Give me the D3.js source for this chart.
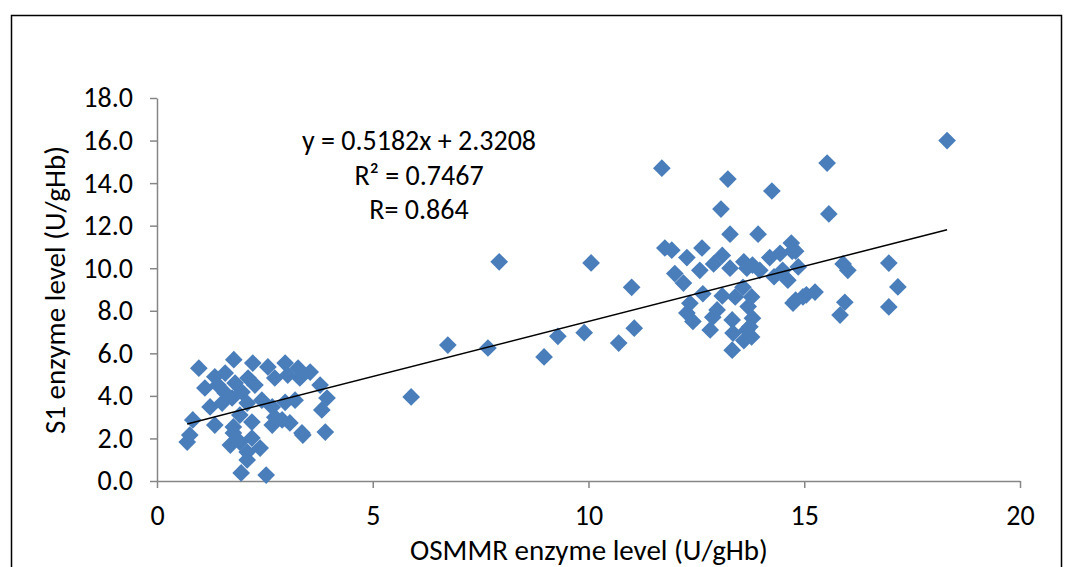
<!DOCTYPE html>
<html><head><meta charset="utf-8">
<script src="https://cdn.jsdelivr.net/npm/d3@7"></script>
<style>body{margin:0;background:#fff}svg{display:block}</style>
</head><body>
<svg id="c" width="1068" height="567"></svg>
<script>
const xValues = [
 // left cluster
 0.97,1.78,2.22,2.57,2.97,3.27,3.55,1.34,1.58,1.11,1.41,1.81,2.11,2.27,2.73,3.03,3.31,3.78,3.94,3.82,
 3.90,3.38,3.20,2.97,2.67,2.43,2.09,1.74,1.51,1.23,1.58,1.97,2.73,2.90,3.08,2.67,1.92,1.77,2.20,1.34,
 0.83,0.76,0.70,1.77,1.92,1.70,2.20,2.09,2.39,2.09,1.95,2.53,3.36,
 // middle
 5.89,6.74,7.67,7.93,8.97,9.29,9.90,10.06,10.70,11.00,11.06,
 // right cluster
 11.70,11.77,11.93,12.00,12.20,12.28,12.35,12.28,12.42,12.58,12.63,12.65,12.82,12.88,12.90,12.98,13.07,13.10,13.10,13.23,
 13.28,13.28,13.33,13.33,13.35,13.40,13.58,13.60,13.60,13.67,13.67,13.70,13.74,13.78,13.78,13.80,13.80,13.93,13.97,14.20,
 14.25,14.30,14.44,14.50,14.62,14.70,14.72,14.74,14.80,14.80,14.86,14.97,15.05,15.25,15.53,15.57,15.83,15.90,15.94,16.01,
 16.96,16.96,17.17,18.31
];
const yValues = [
 5.30,5.70,5.54,5.36,5.54,5.30,5.12,4.90,5.07,4.37,4.51,4.60,4.84,4.51,4.84,4.98,4.84,4.51,3.90,3.34,
 2.30,2.16,3.80,3.70,3.48,3.80,3.66,3.90,3.66,3.48,4.14,4.18,3.00,2.87,2.73,2.63,3.10,2.54,2.77,2.63,
 2.87,2.16,1.83,2.26,1.83,1.69,2.02,1.36,1.55,0.99,0.38,0.28,2.26,
 3.95,6.39,6.25,10.30,5.83,6.80,6.97,10.25,6.48,9.10,7.18,
 14.70,10.95,10.85,9.75,9.30,10.50,8.35,7.90,7.50,9.90,10.95,8.80,7.10,7.70,10.20,8.04,12.78,10.60,8.70,14.19,
 11.60,10.00,7.57,6.15,6.95,8.65,9.10,10.30,6.60,10.00,7.10,8.20,7.25,8.65,6.77,7.65,10.15,11.60,9.90,10.50,
 13.63,9.60,10.70,9.90,9.44,11.18,10.80,8.36,10.80,8.50,10.06,8.65,8.75,8.88,14.94,12.55,7.80,10.20,8.40,9.90,
 10.24,8.18,9.12,16.00
];
const xTicks = [0,5,10,15,20];
const yTicks = [0,2,4,6,8,10,12,14,16,18];
const slope = 0.5182, intercept = 2.3208;
const eqLines = ["y = 0.5182x + 2.3208", "R² = 0.7467", "R= 0.864"];
const xTitle = "OSMMR enzyme level (U/gHb)";
const yTitle = "S1 enzyme level (U/gHb)";

const svg = d3.select("#c");
const font = "Carlito, 'Liberation Sans', Arial, sans-serif";
svg.append("rect").attr("x",11.5).attr("y",15.5).attr("width",1050).attr("height",600)
  .attr("fill","none").attr("stroke","#000").attr("stroke-width",1.5);

const x = d3.scaleLinear().domain([0,20]).range([157,1020]);
const y = d3.scaleLinear().domain([0,18]).range([481,98]);

const xa = svg.append("g").attr("transform","translate(0,481)")
  .call(d3.axisBottom(x).tickValues(xTicks).tickSize(7).tickSizeOuter(0).tickPadding(17).tickFormat(d3.format("d")));
const ya = svg.append("g").attr("transform","translate(157,0)")
  .call(d3.axisLeft(y).tickValues(yTicks).tickSize(7).tickSizeOuter(0).tickPadding(17).tickFormat(d3.format(".1f")));
[xa,ya].forEach(a=>{
  a.selectAll("path,line").attr("stroke","#868686").attr("stroke-width",1.5);
  a.selectAll("text").attr("fill","#000").style("font-family",font).style("font-size","28px");
});

const pts = xValues.map((v,i)=>[v,yValues[i]]);
const diamond = d3.symbol().type(d3.symbolDiamond2).size(200);
svg.append("g").selectAll("path").data(pts).join("path")
  .attr("transform",d=>`translate(${x(d[0])},${y(d[1])})`)
  .attr("d",diamond).attr("fill","#4a7ebb");

const xmin = d3.min(xValues), xmax = d3.max(xValues);
svg.append("line").attr("x1",x(xmin)).attr("y1",y(slope*xmin+intercept))
  .attr("x2",x(xmax)).attr("y2",y(slope*xmax+intercept)).attr("stroke","#000").attr("stroke-width",1.5);

svg.append("g").selectAll("text").data(eqLines).join("text")
  .attr("x",419).attr("y",(d,i)=>150+i*34.5).attr("text-anchor","middle")
  .style("font-family",font).style("font-size","28px").text(d=>d);

svg.append("text").attr("x",589).attr("y",560).attr("text-anchor","middle")
  .style("font-family",font).style("font-size","29px").text(xTitle);
svg.append("text").attr("transform","translate(65,290) rotate(-90)").attr("text-anchor","middle")
  .style("font-family",font).style("font-size","29px").text(yTitle);
</script>
</body></html>
